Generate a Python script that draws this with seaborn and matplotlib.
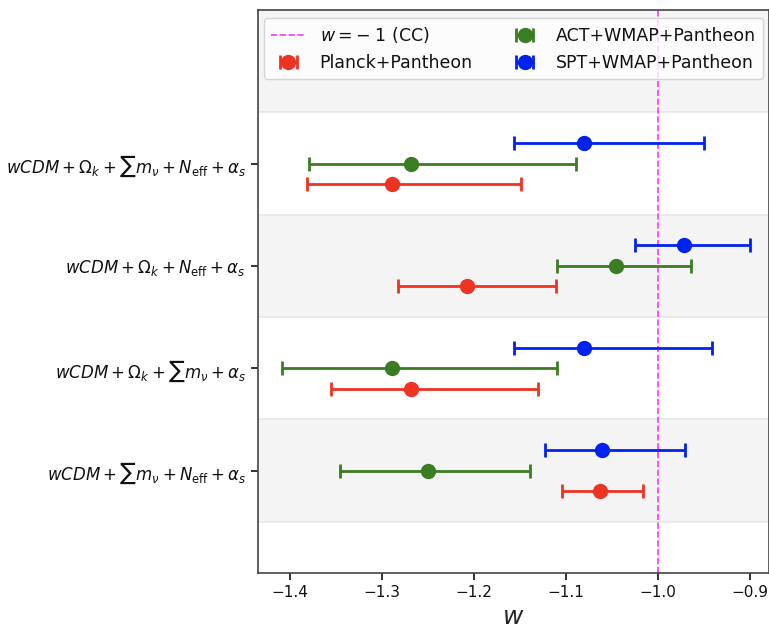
import numpy as np
import matplotlib
matplotlib.use("Agg")
import matplotlib.pyplot as plt
import seaborn as sns

# models, bottom to top
models = [
    r"$wCDM + \sum m_\nu + N_{\rm eff} + \alpha_s$",
    r"$wCDM + \Omega_k + \sum m_\nu + \alpha_s$",
    r"$wCDM + \Omega_k + N_{\rm eff} + \alpha_s$",
    r"$wCDM + \Omega_k + \sum m_\nu + N_{\rm eff} + \alpha_s$",
]

datasets = ["Planck+Pantheon", "ACT+WMAP+Pantheon", "SPT+WMAP+Pantheon"]

# best fit w and lower / upper limits (same order as models)
planck_w = [-1.063, -1.269, -1.208, -1.289]
planck_lo = [-1.104, -1.356, -1.283, -1.382]
planck_hi = [-1.016, -1.130, -1.111, -1.149]

act_w = [-1.250, -1.289, -1.046, -1.269]
act_lo = [-1.346, -1.409, -1.110, -1.379]
act_hi = [-1.139, -1.110, -0.964, -1.089]

spt_w = [-1.061, -1.080, -0.971, -1.080]
spt_lo = [-1.123, -1.156, -1.025, -1.156]
spt_hi = [-0.970, -0.941, -0.900, -0.950]

colors = ["#ee3322", "#3a7d22", "#0022ee"]
offsets = [-0.2, 0.0, 0.2]

sns.set_theme(style="ticks")
plt.rcParams["font.family"] = ["DejaVu Sans"]
plt.rcParams["mathtext.fontset"] = "dejavusans"

fig = plt.figure(figsize=(7.69, 6.32), dpi=100)
ax = fig.add_axes([0.3355, 0.0934, 0.6645, 0.8906])

# alternating background bands
for i in range(len(models) + 1):
    if i % 2 == 0:
        ax.axhspan(i - 0.5, i + 0.5, facecolor="#f4f4f4", edgecolor="#e6e6e6",
                   linewidth=1.2, zorder=0)

ax.axvline(-1.0, color="#ff33ff", linestyle="--", linewidth=1.2,
           label=r"$w = -\;1$ (CC)", zorder=1)

ypos = np.arange(len(models))
all_w = [planck_w, act_w, spt_w]
all_lo = [planck_lo, act_lo, spt_lo]
all_hi = [planck_hi, act_hi, spt_hi]
for k in range(3):
    w = np.array(all_w[k])
    err = [w - np.array(all_lo[k]), np.array(all_hi[k]) - w]
    ax.errorbar(w, ypos + offsets[k], xerr=err, fmt="o", color=colors[k],
                markersize=10, elinewidth=2, capsize=5, capthick=2,
                label=datasets[k], zorder=3)

ax.set_yticks(ypos)
ax.set_yticklabels(models, fontsize=12)
ax.set_ylim(-1.0, 4.5)
ax.set_xlim(-1.435, -0.879)
ax.set_xticks([-1.4, -1.3, -1.2, -1.1, -1.0, -0.9])
ax.tick_params(axis="x", labelsize=11, length=5, width=1.2, color="#111111",
               labelcolor="#111111")
ax.tick_params(axis="y", length=5, width=1.2, color="#111111",
               labelcolor="#111111")
ax.set_xlabel(r"$w$", fontsize=18)
for s in ax.spines.values():
    s.set_color("#444444")
    s.set_linewidth(1.2)

ax.legend(loc="upper center", ncol=2, fontsize=12.5, frameon=True,
          framealpha=0.8, edgecolor="#cccccc", columnspacing=2.0,
          borderaxespad=0.3, bbox_to_anchor=(0.5, 0.995),
          labelcolor="#111111")

fig.savefig("out.png", dpi=100)
